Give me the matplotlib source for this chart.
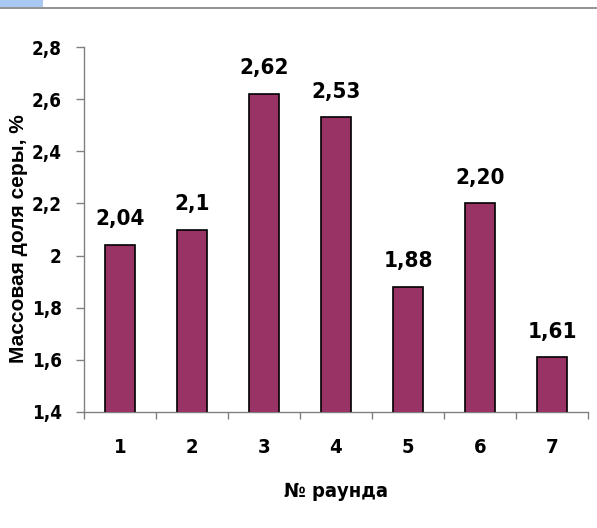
import matplotlib
matplotlib.use("Agg")
import matplotlib.pyplot as plt
from matplotlib.patches import Rectangle
from matplotlib.lines import Line2D
from matplotlib.ticker import FixedLocator
from matplotlib import font_manager as fm

rounds = ["1", "2", "3", "4", "5", "6", "7"]
values = [2.04, 2.10, 2.62, 2.53, 1.88, 2.20, 1.61]
value_labels = ["2,04", "2,1", "2,62", "2,53", "1,88", "2,20", "1,61"]
y_ticks = [1.4, 1.6, 1.8, 2.0, 2.2, 2.4, 2.6, 2.8]
y_tick_labels = ["1,4", "1,6", "1,8", "2", "2,2", "2,4", "2,6", "2,8"]

# pick a condensed bold face if one is installed
narrow_file = None
for f in fm.fontManager.ttflist:
    low = f.fname.lower()
    if ("condensed" in low or "narrow" in low) and ("bold" in low) and "oblique" not in low and "italic" not in low:
        narrow_file = f.fname
        break
if narrow_file:
    narrow_prop = lambda size: fm.FontProperties(fname=narrow_file, size=size)
else:
    narrow_prop = lambda size: fm.FontProperties(family="DejaVu Sans", weight="bold", size=size)

fig = plt.figure(figsize=(5.97, 5.28), dpi=100)
fig.patches.append(Rectangle((0, 1 - 7/528), 43/597, 7/528, transform=fig.transFigure,
                             facecolor="#a9c9f2", edgecolor="none"))
fig.lines.append(Line2D([0, 1], [1 - 7.5/528, 1 - 7.5/528], transform=fig.transFigure,
                        color="#808080", lw=1.2))

ax = fig.add_axes([84/597, 1 - 412/528, (588-84)/597, (412-47)/528])
x = list(range(len(rounds)))
ax.bar(x, values, width=0.42, bottom=0, color="#993366", edgecolor="black", linewidth=1.2, zorder=3)
ax.set_ylim(1.4, 2.8)
ax.set_xlim(-0.5, len(rounds) - 0.5)

for xi, v, lab in zip(x, values, value_labels):
    ax.text(xi, v + 0.06, lab, ha="center", va="bottom", fontproperties=narrow_prop(16))

ax.set_yticks(y_ticks)
ax.set_yticklabels(y_tick_labels, fontproperties=narrow_prop(13.5))
ax.set_xticks(x)
ax.set_xticklabels(rounds, fontproperties=narrow_prop(14.5))
ax.tick_params(axis="x", length=0, pad=19)
ax.xaxis.set_minor_locator(FixedLocator([i - 0.5 for i in range(len(rounds) + 1)]))
ax.tick_params(axis="x", which="minor", length=5, color="#808080", width=1)
ax.tick_params(axis="y", length=6, color="#808080", width=1, pad=10)

for s in ["top", "right"]:
    ax.spines[s].set_visible(False)
for s in ["left", "bottom"]:
    ax.spines[s].set_color("#808080")
    ax.spines[s].set_linewidth(1)

ax.set_xlabel("№ раунда", fontproperties=narrow_prop(14.5), labelpad=18)
ax.set_ylabel("Массовая доля серы, %", family=["Liberation Sans", "DejaVu Sans"],
              fontweight="bold", fontsize=15)
ax.yaxis.set_label_coords(-0.112, 0.475)

fig.savefig("out.png", dpi=100)
